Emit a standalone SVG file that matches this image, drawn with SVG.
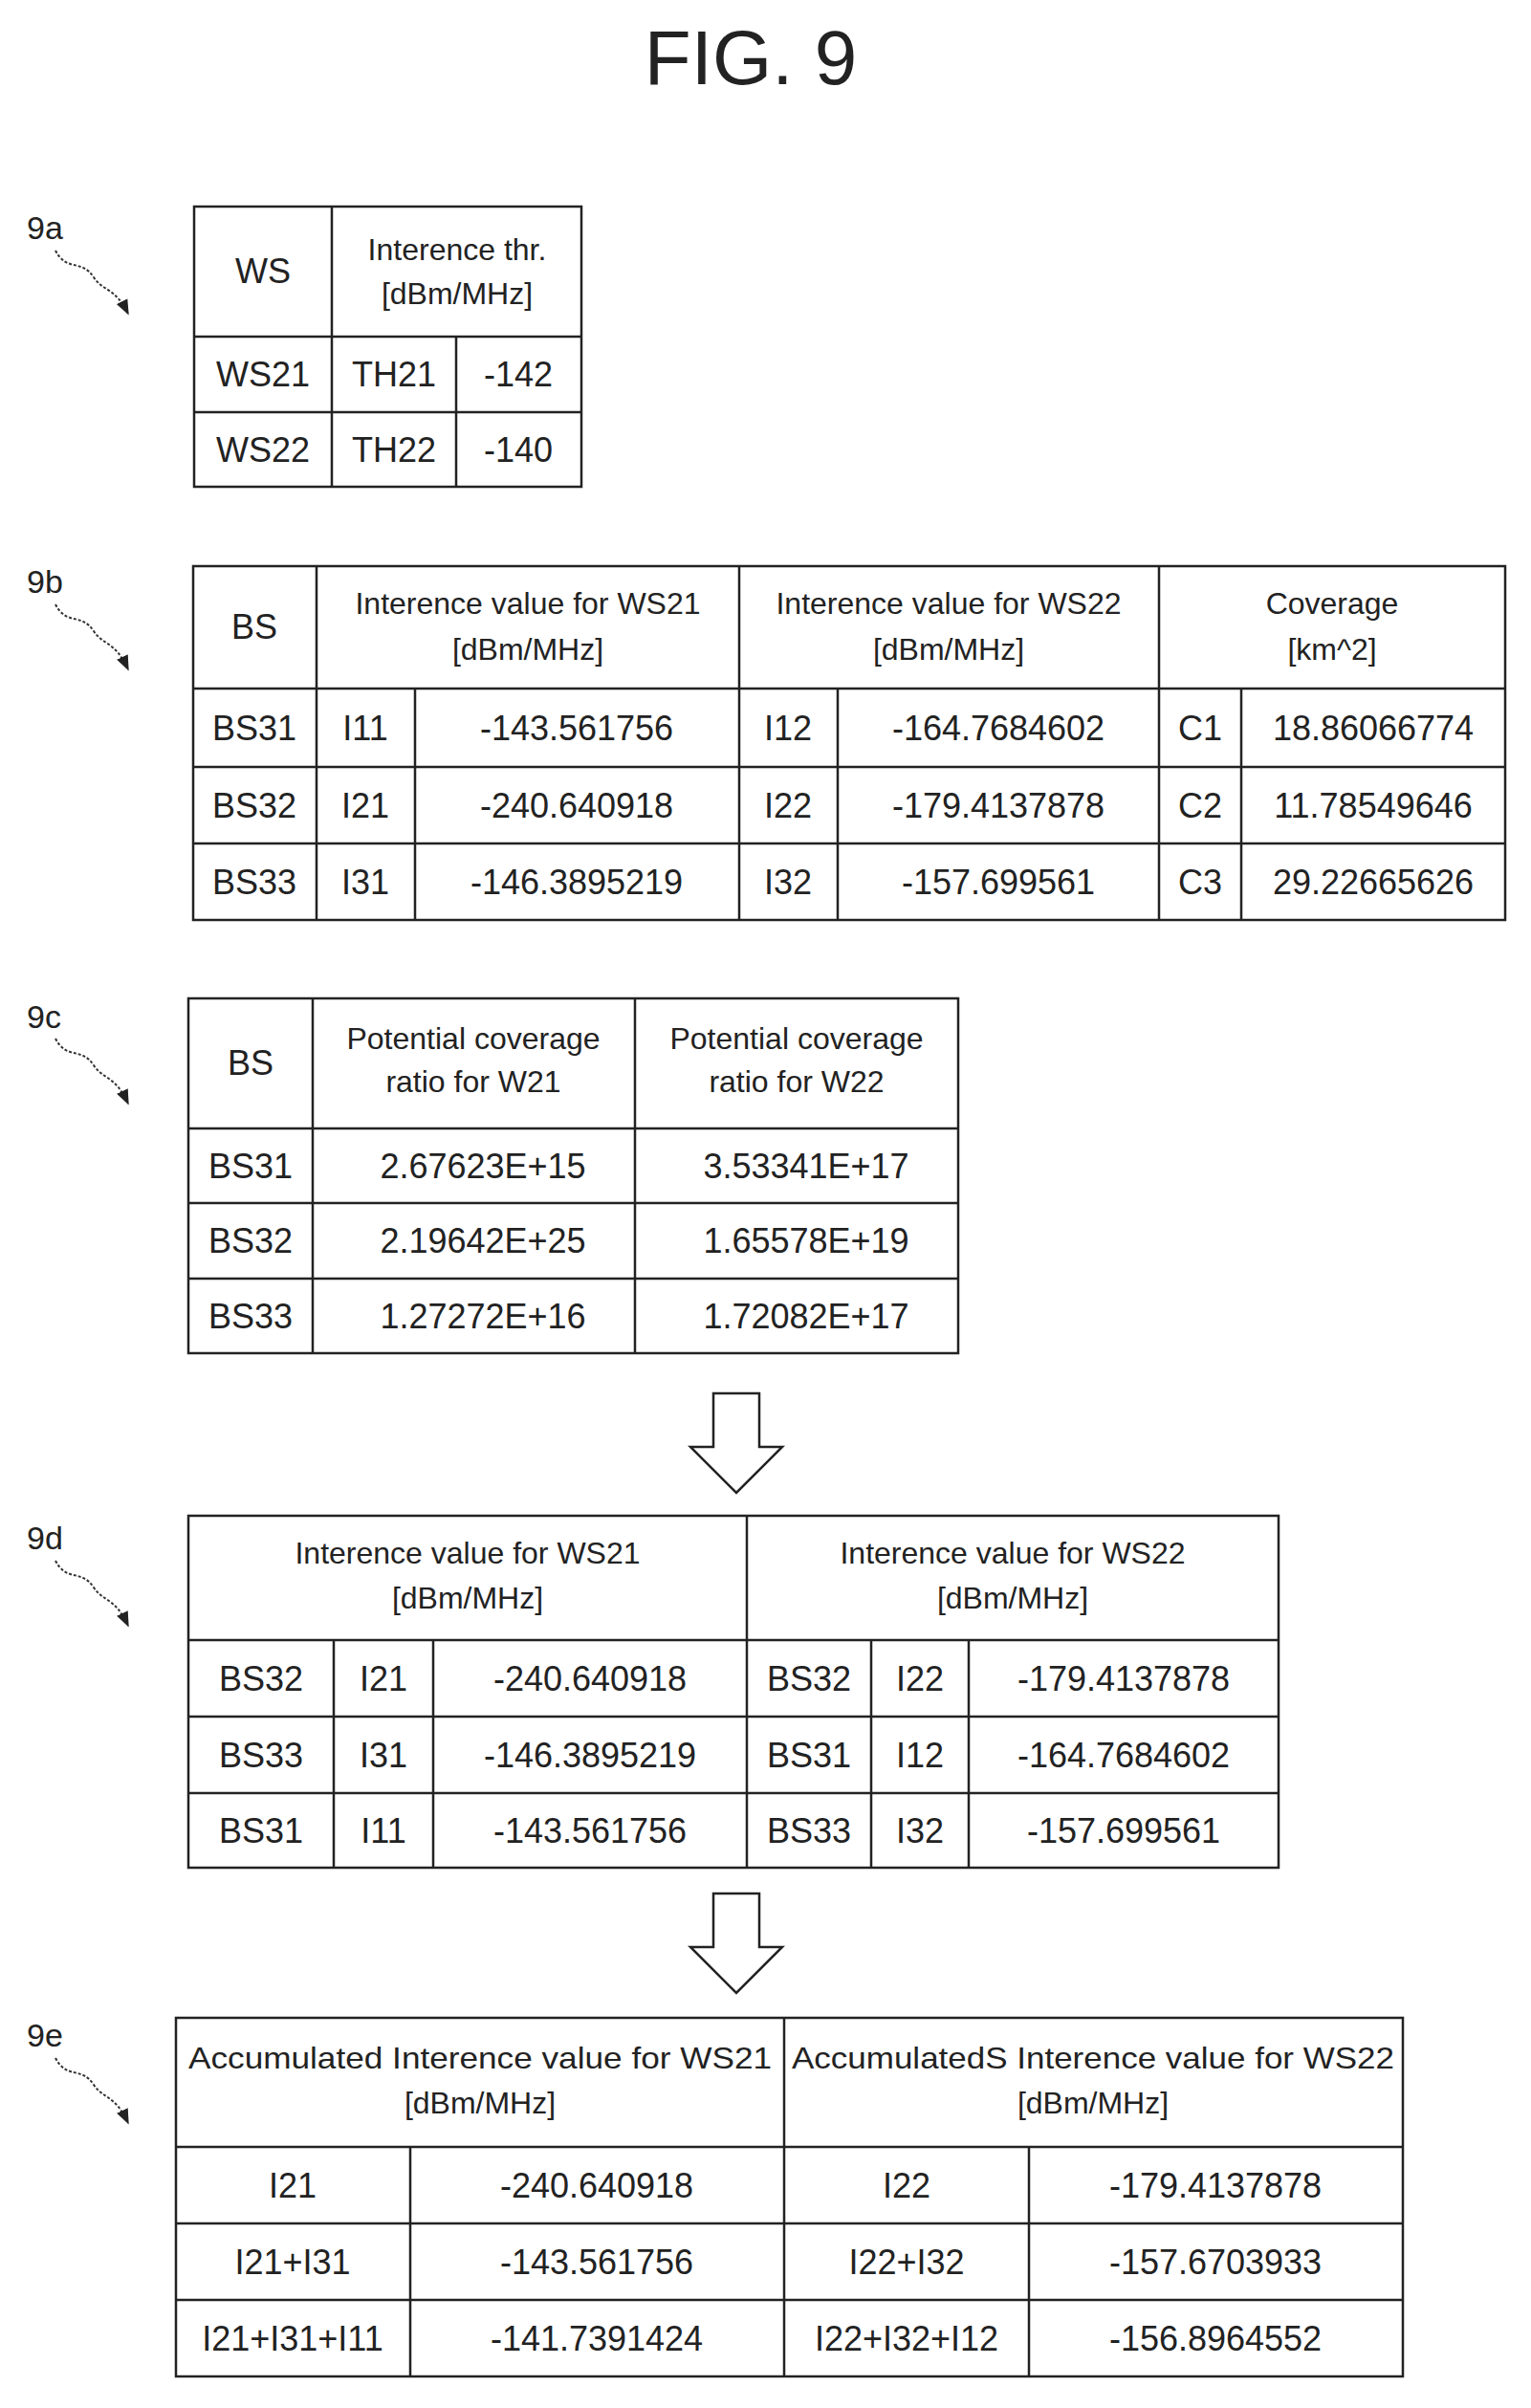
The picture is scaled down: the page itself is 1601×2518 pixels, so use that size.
<svg xmlns="http://www.w3.org/2000/svg" width="1601" height="2518" viewBox="0 0 1601 2518">
<style>
text{font-family:"Liberation Sans",Arial,sans-serif;fill:#222;text-anchor:middle}
.d{font-size:36px}.h{font-size:32px}.lb{font-size:34px;text-anchor:start}
.t{fill:none;stroke:#222;stroke-width:2.5}
.sq{fill:none;stroke:#333;stroke-width:2;stroke-dasharray:3 2}
.ar{fill:#fff;stroke:#222;stroke-width:2.5}
</style>
<defs><marker id="m" viewBox="0 0 10 10" refX="9" refY="5" markerWidth="8" markerHeight="8" orient="auto-start-reverse"><path d="M0,1 L10,5 L0,9 Z" fill="#222"/></marker></defs>
<rect width="1601" height="2518" fill="#fff"/>
<text x="785" y="88" style="font-size:80px">FIG. 9</text>
<g id="connectors">
<path class="sq" d="M58,262 C70,285 85,270 98,290 C108,305 120,300 134,328" marker-end="url(#m)"/>
<path class="sq" d="M58,632 C70,655 85,640 98,660 C108,675 120,670 134,700" marker-end="url(#m)"/>
<path class="sq" d="M58,1086 C70,1109 85,1094 98,1114 C108,1129 120,1124 134,1154" marker-end="url(#m)"/>
<path class="sq" d="M58,1632 C70,1655 85,1640 98,1660 C108,1675 120,1670 134,1700" marker-end="url(#m)"/>
<path class="sq" d="M58,2152 C70,2175 85,2160 98,2180 C108,2195 120,2190 134,2220" marker-end="url(#m)"/>
<path id="arrow1" class="ar" d="M746,1457 H794 V1513 H818 L770,1561 L722,1513 H746 Z"/>
<path id="arrow2" class="ar" d="M746,1980 H794 V2036 H818 L770,2084 L722,2036 H746 Z"/>
</g>
<g id="t9a">
<text class="lb" x="28" y="250">9a</text>
<rect class="t" x="203" y="216" width="405" height="293"/>
<path class="t" d="M203,352H608M203,431H608M347,216V509M477,352V509"/>
<text class="d" x="275" y="296">WS</text>
<text class="h" x="478" y="272">Interence thr.</text>
<text class="h" x="478" y="318">[dBm/MHz]</text>
<text class="d" x="275" y="404">WS21</text><text class="d" x="412" y="404">TH21</text><text class="d" x="542" y="404">-142</text>
<text class="d" x="275" y="483">WS22</text><text class="d" x="412" y="483">TH22</text><text class="d" x="542" y="483">-140</text>
</g>
<g id="t9b">
<text class="lb" x="28" y="620">9b</text>
<rect class="t" x="202" y="592" width="1372" height="370"/>
<path class="t" d="M202,720H1574M202,802H1574M202,882H1574M331,592V962M773,592V962M1212,592V962M434,720V962M876,720V962M1298,720V962"/>
<text class="d" x="266" y="668">BS</text>
<text class="h" x="552" y="642">Interence value for WS21</text><text class="h" x="552" y="690">[dBm/MHz]</text>
<text class="h" x="992" y="642">Interence value for WS22</text><text class="h" x="992" y="690">[dBm/MHz]</text>
<text class="h" x="1393" y="642">Coverage</text><text class="h" x="1393" y="690">[km^2]</text>
<text class="d" x="266" y="774">BS31</text><text class="d" x="382" y="774">I11</text><text class="d" x="603" y="774">-143.561756</text><text class="d" x="824" y="774">I12</text><text class="d" x="1044" y="774">-164.7684602</text><text class="d" x="1255" y="774">C1</text><text class="d" x="1436" y="774">18.86066774</text>
<text class="d" x="266" y="855">BS32</text><text class="d" x="382" y="855">I21</text><text class="d" x="603" y="855">-240.640918</text><text class="d" x="824" y="855">I22</text><text class="d" x="1044" y="855">-179.4137878</text><text class="d" x="1255" y="855">C2</text><text class="d" x="1436" y="855">11.78549646</text>
<text class="d" x="266" y="935">BS33</text><text class="d" x="382" y="935">I31</text><text class="d" x="603" y="935">-146.3895219</text><text class="d" x="824" y="935">I32</text><text class="d" x="1044" y="935">-157.699561</text><text class="d" x="1255" y="935">C3</text><text class="d" x="1436" y="935">29.22665626</text>
</g>
<g id="t9c">
<text class="lb" x="28" y="1075">9c</text>
<rect class="t" x="197" y="1044" width="805" height="371"/>
<path class="t" d="M197,1180H1002M197,1258H1002M197,1337H1002M327,1044V1415M664,1044V1415"/>
<text class="d" x="262" y="1124">BS</text>
<text class="h" x="495" y="1097">Potential coverage</text><text class="h" x="495" y="1142">ratio for W21</text>
<text class="h" x="833" y="1097">Potential coverage</text><text class="h" x="833" y="1142">ratio for W22</text>
<text class="d" x="505" y="1232">2.67623E+15</text><text class="d" x="262" y="1232">BS31</text><text class="d" x="843" y="1232">3.53341E+17</text>
<text class="d" x="262" y="1310">BS32</text><text class="d" x="505" y="1310">2.19642E+25</text><text class="d" x="843" y="1310">1.65578E+19</text>
<text class="d" x="262" y="1389">BS33</text><text class="d" x="505" y="1389">1.27272E+16</text><text class="d" x="843" y="1389">1.72082E+17</text>
</g>
<g id="t9d">
<text class="lb" x="28" y="1620">9d</text>
<rect class="t" x="197" y="1585" width="1140" height="368"/>
<path class="t" d="M197,1715H1337M197,1795H1337M197,1875H1337M781,1585V1953M349,1715V1953M453,1715V1953M911,1715V1953M1013,1715V1953"/>
<text class="h" x="489" y="1635">Interence value for WS21</text><text class="h" x="489" y="1682">[dBm/MHz]</text>
<text class="h" x="1059" y="1635">Interence value for WS22</text><text class="h" x="1059" y="1682">[dBm/MHz]</text>
<text class="d" x="273" y="1768">BS32</text><text class="d" x="401" y="1768">I21</text><text class="d" x="617" y="1768">-240.640918</text><text class="d" x="846" y="1768">BS32</text><text class="d" x="962" y="1768">I22</text><text class="d" x="1175" y="1768">-179.4137878</text>
<text class="d" x="273" y="1848">BS33</text><text class="d" x="401" y="1848">I31</text><text class="d" x="617" y="1848">-146.3895219</text><text class="d" x="846" y="1848">BS31</text><text class="d" x="962" y="1848">I12</text><text class="d" x="1175" y="1848">-164.7684602</text>
<text class="d" x="273" y="1927">BS31</text><text class="d" x="401" y="1927">I11</text><text class="d" x="617" y="1927">-143.561756</text><text class="d" x="846" y="1927">BS33</text><text class="d" x="962" y="1927">I32</text><text class="d" x="1175" y="1927">-157.699561</text>
</g>
<g id="t9e">
<text class="lb" x="28" y="2140">9e</text>
<rect class="t" x="184" y="2110" width="1283" height="375"/>
<path class="t" d="M184,2245H1467M184,2325H1467M184,2405H1467M820,2110V2485M429,2245V2485M1076,2245V2485"/>
<text class="h" x="502" y="2163" textLength="610" lengthAdjust="spacingAndGlyphs">Accumulated Interence value for WS21</text><text class="h" x="502" y="2210">[dBm/MHz]</text>
<text class="h" x="1143" y="2163" textLength="630" lengthAdjust="spacingAndGlyphs">AccumulatedS Interence value for WS22</text><text class="h" x="1143" y="2210">[dBm/MHz]</text>
<text class="d" x="306" y="2298">I21</text><text class="d" x="624" y="2298">-240.640918</text><text class="d" x="948" y="2298">I22</text><text class="d" x="1271" y="2298">-179.4137878</text>
<text class="d" x="306" y="2378">I21+I31</text><text class="d" x="624" y="2378">-143.561756</text><text class="d" x="948" y="2378">I22+I32</text><text class="d" x="1271" y="2378">-157.6703933</text>
<text class="d" x="306" y="2458">I21+I31+I11</text><text class="d" x="624" y="2458">-141.7391424</text><text class="d" x="948" y="2458">I22+I32+I12</text><text class="d" x="1271" y="2458">-156.8964552</text>
</g>
</svg>
